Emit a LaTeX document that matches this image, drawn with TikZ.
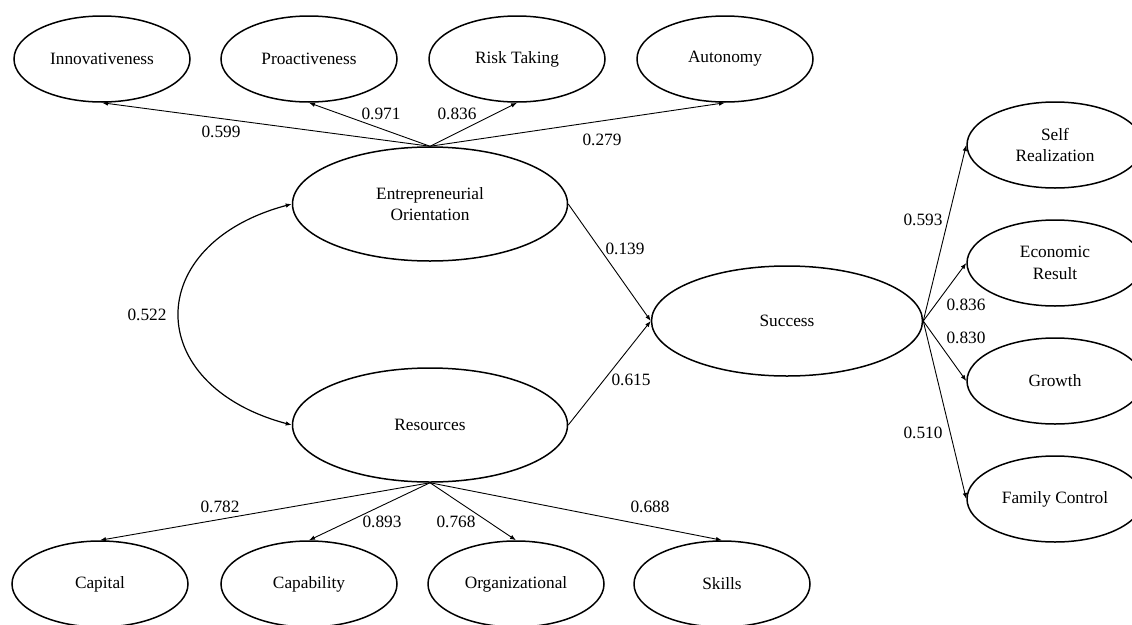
\documentclass[tikz,border=0pt]{standalone}
\usepackage{fontspec}
\setmainfont{Liberation Serif}
\usetikzlibrary{shapes.geometric, arrows.meta, positioning}

\begin{document}
\begin{tikzpicture}[x=1pt, y=-1pt,
    every node/.style={font=\fontsize{17.3}{21.5}\selectfont},
    >={Latex[length=6pt,width=4.5pt]},
    latent/.style={ellipse, draw, line width=1.5pt, minimum width=176pt, minimum height=86pt, inner sep=0pt, align=center},
    factor/.style={latent, minimum width=275pt, minimum height=114pt},
    load/.style={->, line width=0.9pt},
    corr/.style={<->, line width=1.2pt}]
    \useasboundingbox (0,0) rectangle (1132,624);

    % Entrepreneurial orientation dimensions
    \node[latent] (inno) at (102,59) {Innovativeness};
    \node[latent] (proa) at (309,59) {Proactiveness};
    \node[latent] (risk) at (517,59) {Risk Taking};
    \node[latent] (auto) at (725,59) {Autonomy};

    % Main constructs
    \node[factor] (eo) at (430,204) {Entrepreneurial\\Orientation};
    \node[factor] (res) at (430,425) {Resources};
    \node[factor, minimum width=271pt, minimum height=110pt] (succ) at (787,321) {Success};

    % Success dimensions
    \node[latent] (self) at (1055,145) {Self\\Realization};
    \node[latent] (econ) at (1055,263) {Economic\\Result};
    \node[latent] (grow) at (1055,381) {Growth};
    \node[latent] (fam) at (1055,499) {Family Control};

    % Resource dimensions
    \node[latent] (cap) at (100,584) {Capital};
    \node[latent] (capab) at (309,584) {Capability};
    \node[latent] (org) at (516,584) {Organizational};
    \node[latent] (skill) at (722,584) {Skills};

    % Loadings
    \draw[load] (eo.north) -- (inno.south);
    \draw[load] (eo.north) -- (proa.south);
    \draw[load] (eo.north) -- (risk.south);
    \draw[load] (eo.north) -- (auto.south);
    \draw[load] (res.south) -- (cap.north);
    \draw[load] (res.south) -- (capab.north);
    \draw[load] (res.south) -- (org.north);
    \draw[load] (res.south) -- (skill.north);
    \draw[load] (succ.east) -- (self.west);
    \draw[load] (succ.east) -- (econ.west);
    \draw[load] (succ.east) -- (grow.west);
    \draw[load] (succ.east) -- (fam.west);

    % Paths
    \draw[load] (eo.east) -- (succ.west);
    \draw[load] (res.east) -- (succ.west);
    \draw[corr] (eo.west) .. controls +(-150,40) and +(-150,-40) .. (res.west);

    % Coefficients
    \node (l599) at (221,132) {0.599};
    \node (l971) at (381,114) {0.971};
    \node (l836a) at (457,114) {0.836};
    \node (l279) at (602,140) {0.279};
    \node (l139) at (625,249) {0.139};
    \node (l615) at (631,380) {0.615};
    \node (l522) at (147,315) {0.522};
    \node (l593) at (923,220) {0.593};
    \node (l836b) at (966,305) {0.836};
    \node (l830) at (966,338) {0.830};
    \node (l510) at (923,433) {0.510};
    \node (l782) at (220,507) {0.782};
    \node (l893) at (382,522) {0.893};
    \node (l768) at (456,522) {0.768};
    \node (l688) at (650,507) {0.688};
\end{tikzpicture}
\end{document}
